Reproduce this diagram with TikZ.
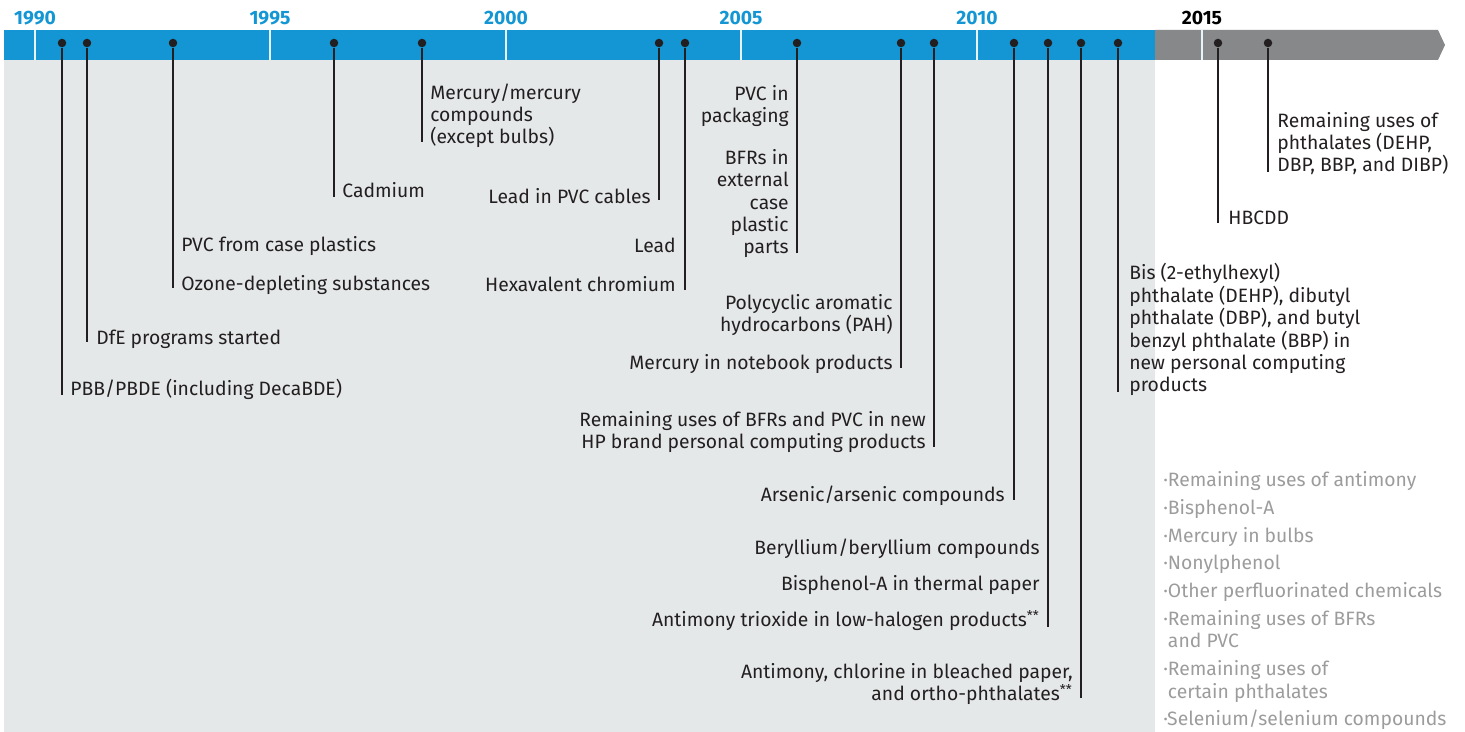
\documentclass[tikz,border=0pt]{standalone}
\usepackage{fontspec}
\setmainfont{Fira Sans}
\usetikzlibrary{positioning}
\definecolor{barblue}{HTML}{1396D3}
\definecolor{bargrey}{HTML}{86888A}
\definecolor{panel}{HTML}{E5E8E9}
\definecolor{dotc}{HTML}{231F20}
\definecolor{later}{HTML}{9C9C9C}
\newcommand\lblfont{\fontsize{11}{12.8}\selectfont}
\tikzset{
  evdot/.style={circle, fill=dotc, inner sep=0pt, minimum size=0.17cm},
  stem/.style={draw=dotc, line width=0.8pt},
  lbl/.style={font=\lblfont, inner sep=0pt, text=dotc},
  yr/.style={font=\bfseries\fontsize{11}{12}\selectfont, text=barblue},
  yrsep/.style={draw=white!90!barblue, line width=1.2pt}
}
\begin{document}
\begin{tikzpicture}[x=0.02cm, y=-0.02cm]
\useasboundingbox (0,0) rectangle (1465,732);
% background and bar
\fill[panel] (4,60) rectangle (1155,732);
\fill[barblue] (4,30) rectangle (1155,60);
\fill[bargrey] (1155,30) -- (1438,30) -- (1445,45) -- (1438,60) -- (1155,60) -- cycle;
\draw[yrsep] (35,30) -- (35,60);
\draw[yrsep] (270,30) -- (270,60);
\draw[yrsep] (506,30) -- (506,60);
\draw[yrsep] (741,30) -- (741,60);
\draw[yrsep] (977,30) -- (977,60);
\draw[yrsep] (1202,30) -- (1202,60);
% years
\node[yr] (y1990) at (35,18) {1990};
\node[yr] (y1995) at (270,18) {1995};
\node[yr] (y2000) at (506,18) {2000};
\node[yr] (y2005) at (741,18) {2005};
\node[yr] (y2010) at (977,18) {2010};
\node[yr, text=black] (y2015) at (1202,18) {2015};
% stems
\coordinate (e1) at (62,395);
\coordinate (e2) at (87,342);
\coordinate (e3) at (173,288);
\coordinate (e4) at (334,197);
\coordinate (e5) at (422,142);
\coordinate (e6) at (659,200);
\coordinate (e7) at (685,290);
\coordinate (e8) at (797,253);
\coordinate (e9) at (901,368);
\coordinate (e10) at (934,447);
\coordinate (e11) at (1014,500);
\coordinate (e12) at (1048,627);
\coordinate (e13) at (1081,698);
\coordinate (e14) at (1118,392);
\coordinate (e15) at (1218,223);
\coordinate (e16) at (1268,172);
\node[evdot] (d1) at (62,43) {};
\node[evdot] (d2) at (87,43) {};
\node[evdot] (d3) at (173,43) {};
\node[evdot] (d4) at (334,43) {};
\node[evdot] (d5) at (422,43) {};
\node[evdot] (d6) at (659,43) {};
\node[evdot] (d7) at (685,43) {};
\node[evdot] (d8) at (797,43) {};
\node[evdot] (d9) at (901,43) {};
\node[evdot] (d10) at (934,43) {};
\node[evdot] (d11) at (1014,43) {};
\node[evdot] (d12) at (1048,43) {};
\node[evdot] (d13) at (1081,43) {};
\node[evdot] (d14) at (1118,43) {};
\node[evdot] (d15) at (1218,43) {};
\node[evdot] (d16) at (1268,43) {};
\draw[stem] (d1) -- (e1);
\draw[stem] (d2) -- (e2);
\draw[stem] (d3) -- (e3);
\draw[stem] (d4) -- (e4);
\draw[stem] (d5) -- (e5);
\draw[stem] (d6) -- (e6);
\draw[stem] (d7) -- (e7);
\draw[stem] (d8) -- (e8);
\draw[stem] (d9) -- (e9);
\draw[stem] (d10) -- (e10);
\draw[stem] (d11) -- (e11);
\draw[stem] (d12) -- (e12);
\draw[stem] (d13) -- (e13);
\draw[stem] (d14) -- (e14);
\draw[stem] (d15) -- (e15);
\draw[stem] (d16) -- (e16);
% labels left of stems (multi-line: base = last line)
\node[lbl, anchor=base west] (pbb) at (70,396) {PBB/PBDE (including DecaBDE)};
\node[lbl, anchor=base west] (dfe) at (96,345) {DfE programs started};
\node[lbl, anchor=base west] (pvccase) at (181,252) {PVC from case plastics};
\node[lbl, anchor=base west] (ozone) at (181,291) {Ozone-depleting substances};
\node[lbl, anchor=base west] (cad) at (342,198) {Cadmium};
\node[lbl, anchor=base west, align=left] (merc) at (430,144) {Mercury/mercury\\compounds\\(except bulbs)};
\node[lbl, anchor=base west, align=left] (dehp) at (1129,392) {Bis (2-ethylhexyl)\\phthalate (DEHP), dibutyl\\phthalate (DBP), and butyl\\benzyl phthalate (BBP) in\\new personal computing\\products};
\node[lbl, anchor=base west] (hbcdd) at (1228,225) {HBCDD};
\node[lbl, anchor=base west, align=left] (phth) at (1277,172) {Remaining uses of\\phthalates (DEHP,\\DBP, BBP, and DIBP)};
% labels right of stems
\node[lbl, anchor=base east] (leadpvc) at (651,204) {Lead in PVC cables};
\node[lbl, anchor=base east] (lead) at (676,253) {Lead};
\node[lbl, anchor=base east] (hexa) at (676,292) {Hexavalent chromium};
\node[lbl, anchor=base east, align=right] (pvcpack) at (789,123) {PVC in\\packaging};
\node[lbl, anchor=base east, align=right] (bfrcase) at (789,254) {BFRs in\\external\\case\\plastic\\parts};
\node[lbl, anchor=base east, align=right] (pah) at (893,332) {Polycyclic aromatic\\hydrocarbons (PAH)};
\node[lbl, anchor=base east] (mercnb) at (893,370) {Mercury in notebook products};
\node[lbl, anchor=base east, align=right] (bfrpvc) at (926,449) {Remaining uses of BFRs and PVC in new\\HP brand personal computing products};
\node[lbl, anchor=base east] (arsen) at (1005,502) {Arsenic/arsenic compounds};
\node[lbl, anchor=base east] (beryl) at (1040,555) {Beryllium/beryllium compounds};
\node[lbl, anchor=base east] (bpa) at (1040,591) {Bisphenol-A in thermal paper};
\node[lbl, anchor=base east] (antri) at (1040,627) {Antimony trioxide in low-halogen products\textsuperscript{**}};
\node[lbl, anchor=base east, align=right] (antchl) at (1073,701) {Antimony, chlorine in bleached paper,\\and ortho-phthalates\textsuperscript{**}};
% later list
\node[lbl, text=later, anchor=base west, align=left] (laterlist) at (1163,726)
  {·Remaining uses of antimony\\[3pt]
   ·Bisphenol-A\\[3pt]
   ·Mercury in bulbs\\[3pt]
   ·Nonylphenol\\[3pt]
   ·Other perfluorinated chemicals\\[3pt]
   ·Remaining uses of BFRs\\
   \hphantom{·}and PVC\\[3pt]
   ·Remaining uses of\\
   \hphantom{·}certain phthalates\\[3pt]
   ·Selenium/selenium compounds};
\end{tikzpicture}
\end{document}
